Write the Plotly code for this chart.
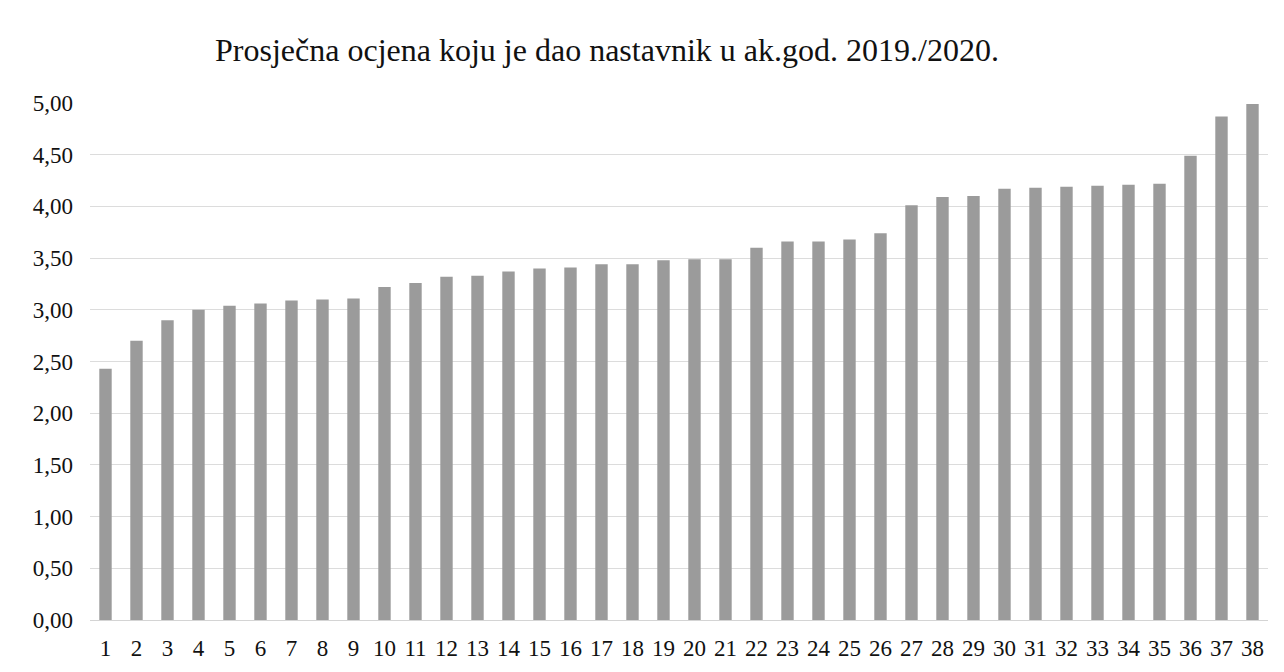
import plotly.graph_objects as go

categories = [str(i) for i in range(1, 39)]
values = [2.43, 2.70, 2.90, 3.00, 3.04, 3.06, 3.09, 3.10, 3.11, 3.22,
          3.26, 3.32, 3.33, 3.37, 3.40, 3.41, 3.44, 3.44, 3.48, 3.49,
          3.49, 3.60, 3.66, 3.66, 3.68, 3.74, 4.01, 4.09, 4.10, 4.17,
          4.18, 4.19, 4.20, 4.21, 4.22, 4.49, 4.87, 4.99]
y_ticks = [0, 0.5, 1, 1.5, 2, 2.5, 3, 3.5, 4, 4.5, 5]
y_tick_labels = ["0,00", "0,50", "1,00", "1,50", "2,00", "2,50",
                 "3,00", "3,50", "4,00", "4,50", "5,00"]
title = "Prosječna ocjena koju je dao nastavnik u ak.god. 2019./2020."

fig = go.Figure(go.Bar(x=categories, y=values, marker_color="#9b9b9b",
                       marker_line_width=0))

fig.update_layout(
    width=1284, height=672,
    paper_bgcolor="white", plot_bgcolor="white",
    margin=dict(l=82, r=24, t=95, b=60),
    bargap=0.6,
    title=dict(text=title, x=0.4665, xanchor="center", y=0.9375, yanchor="middle",
               font=dict(family="Liberation Serif", size=32, color="#111")),
    font=dict(family="Liberation Serif", size=23, color="#111"),
    showlegend=False,
)
fig.update_xaxes(type="category", showgrid=False, showline=True,
                 linecolor="#d4d4d4", linewidth=1, ticks="",
                 tickfont=dict(size=23, color="#111"), ticklabelstandoff=7)
fig.update_yaxes(range=[0, 5], tickvals=y_ticks, ticktext=y_tick_labels,
                 showgrid=True, gridcolor="#dcdcdc", gridwidth=1,
                 zeroline=False, showline=False, ticks="",
                 tickfont=dict(size=23, color="#111"), ticklabelstandoff=16)

fig.write_html("out.html")
